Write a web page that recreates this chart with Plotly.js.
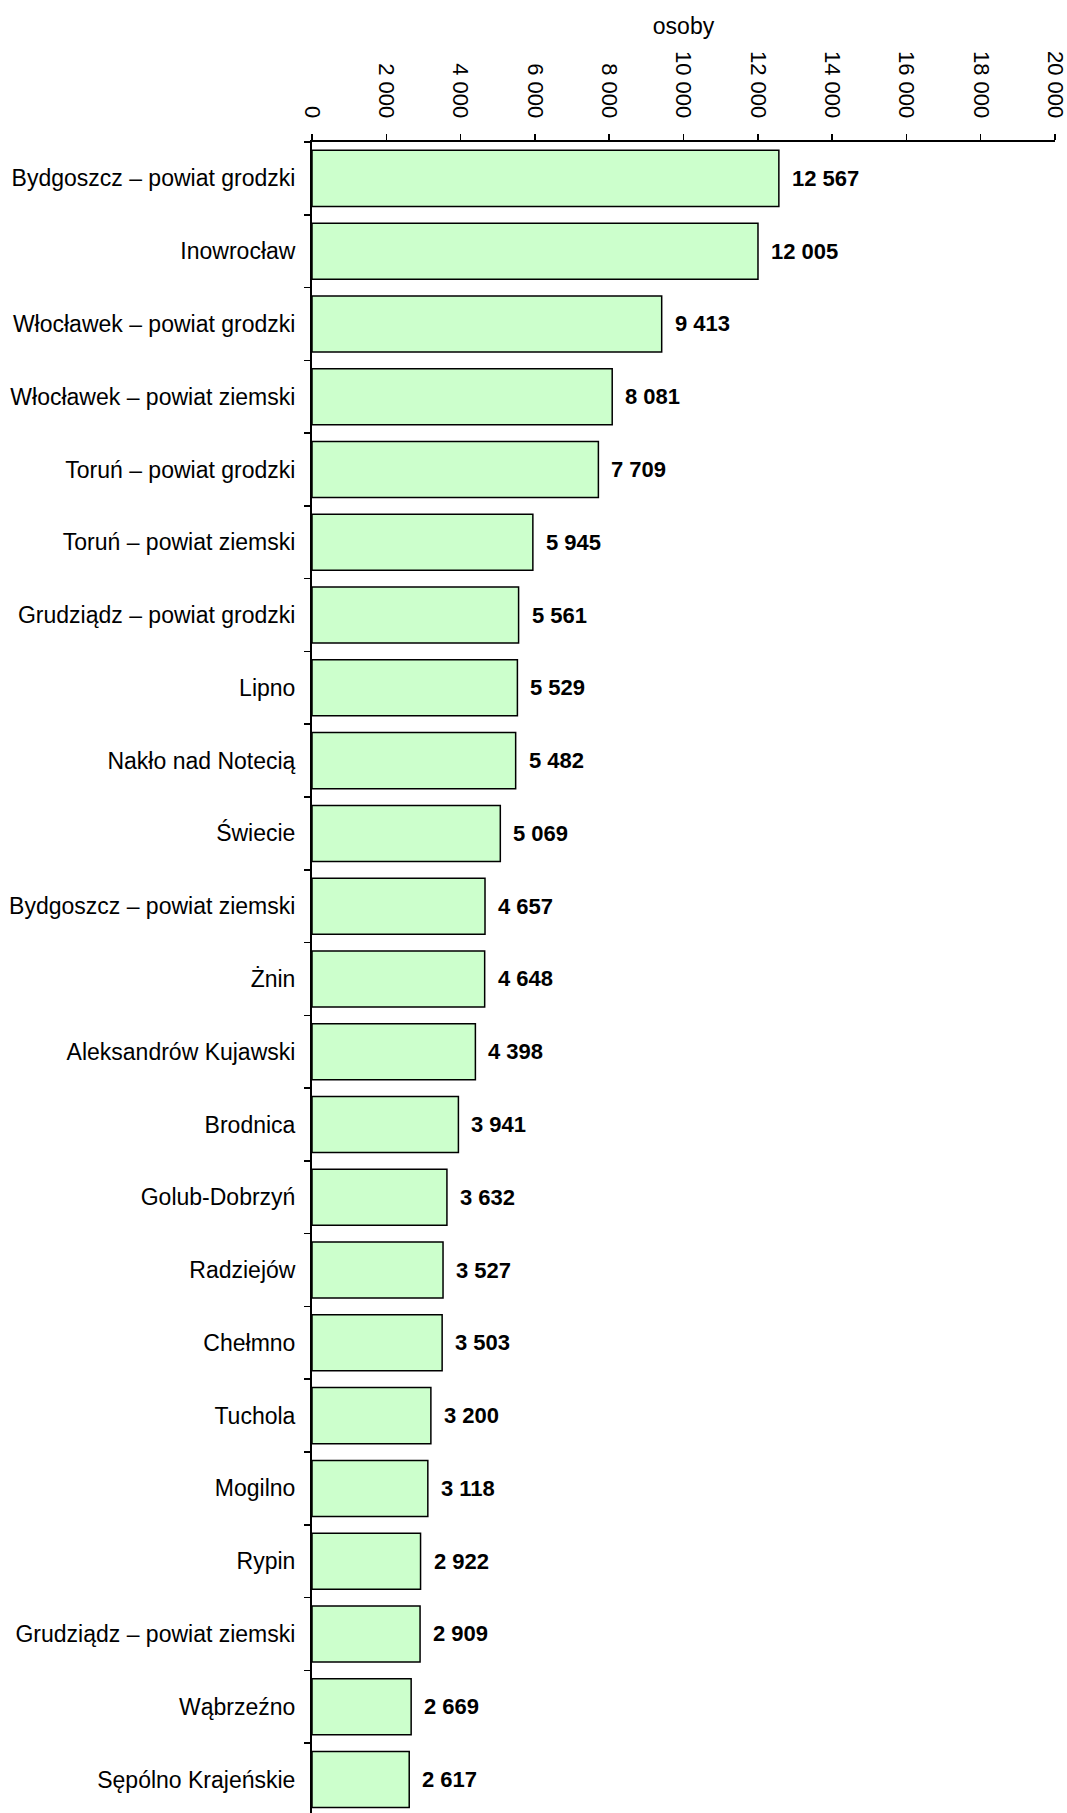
<!DOCTYPE html>
<html>
<head>
<meta charset="utf-8">
<script src="https://cdn.plot.ly/plotly-3.0.1.min.js"></script>
<style>
html,body{margin:0;padding:0;background:#fff;overflow:hidden;}
#chart{width:1067px;height:1813px;}
</style>
</head>
<body>
<div id="chart"></div>
<script>
const categories = [
  "Bydgoszcz – powiat grodzki",
  "Inowrocław",
  "Włocławek – powiat grodzki",
  "Włocławek – powiat ziemski",
  "Toruń – powiat grodzki",
  "Toruń – powiat ziemski",
  "Grudziądz – powiat grodzki",
  "Lipno",
  "Nakło nad Notecią",
  "Świecie",
  "Bydgoszcz – powiat ziemski",
  "Żnin",
  "Aleksandrów Kujawski",
  "Brodnica",
  "Golub-Dobrzyń",
  "Radziejów",
  "Chełmno",
  "Tuchola",
  "Mogilno",
  "Rypin",
  "Grudziądz – powiat ziemski",
  "Wąbrzeźno",
  "Sępólno Krajeńskie"
];
const values = [12567, 12005, 9413, 8081, 7709, 5945, 5561, 5529, 5482, 5069, 4657, 4648, 4398, 3941, 3632, 3527, 3503, 3200, 3118, 2922, 2909, 2669, 2617];
const axisTitle = "osoby";
const tickValues = [0, 2000, 4000, 6000, 8000, 10000, 12000, 14000, 16000, 18000, 20000];

function fmt(v) {
  return String(v).replace(/\B(?=(\d{3})+(?!\d))/g, " ");
}

const FONT = "Liberation Sans, Arial, sans-serif";

const trace = {
  type: "bar",
  orientation: "h",
  x: values,
  y: categories,
  marker: { color: "#CCFFCC", line: { color: "#000000", width: 1.5 } },
  hoverinfo: "x+y"
};

const annotations = values.map((v, i) => ({
  x: v,
  y: categories[i],
  xref: "x",
  yref: "y",
  text: "<b>" + fmt(v) + "</b>",
  showarrow: false,
  xanchor: "left",
  yanchor: "middle",
  xshift: 11,
  font: { family: FONT, size: 22, color: "#000" }
}));

const layout = {
  width: 1067,
  height: 1813,
  margin: { l: 312, r: 12, t: 142, b: 0, pad: 0 },
  paper_bgcolor: "#ffffff",
  plot_bgcolor: "#ffffff",
  font: { family: FONT, size: 22, color: "#000" },
  separators: ", ",
  showlegend: false,
  bargap: 0.23,
  xaxis: {
    side: "top",
    range: [0, 20000],
    tickmode: "array",
    tickvals: tickValues,
    separatethousands: true,
    tickformat: ",d",
    tickangle: 90,
    ticks: "outside",
    ticklen: 6,
    tickwidth: 1.5,
    tickcolor: "#000",
    ticklabelstandoff: 8,
    ticklabeloverflow: "allow",
    showline: true,
    linecolor: "#000",
    linewidth: 2,
    showgrid: false,
    zeroline: false,
    fixedrange: true,
    tickfont: { family: FONT, size: 22, color: "#000" },
    title: { text: axisTitle, font: { family: FONT, size: 23, color: "#000" }, standoff: 10 }
  },
  yaxis: {
    type: "category",
    range: [22.46, -0.5],
    ticks: "outside",
    tickson: "boundaries",
    ticklen: 6,
    tickwidth: 1.5,
    tickcolor: "#000",
    ticklabelstandoff: 10,
    showline: true,
    linecolor: "#000",
    linewidth: 2,
    showgrid: false,
    zeroline: false,
    fixedrange: true,
    tickfont: { family: FONT, size: 23, color: "#000" }
  },
  annotations: annotations
};

Plotly.newPlot("chart", [trace], layout, { displayModeBar: false, staticPlot: true });
</script>
</body>
</html>
